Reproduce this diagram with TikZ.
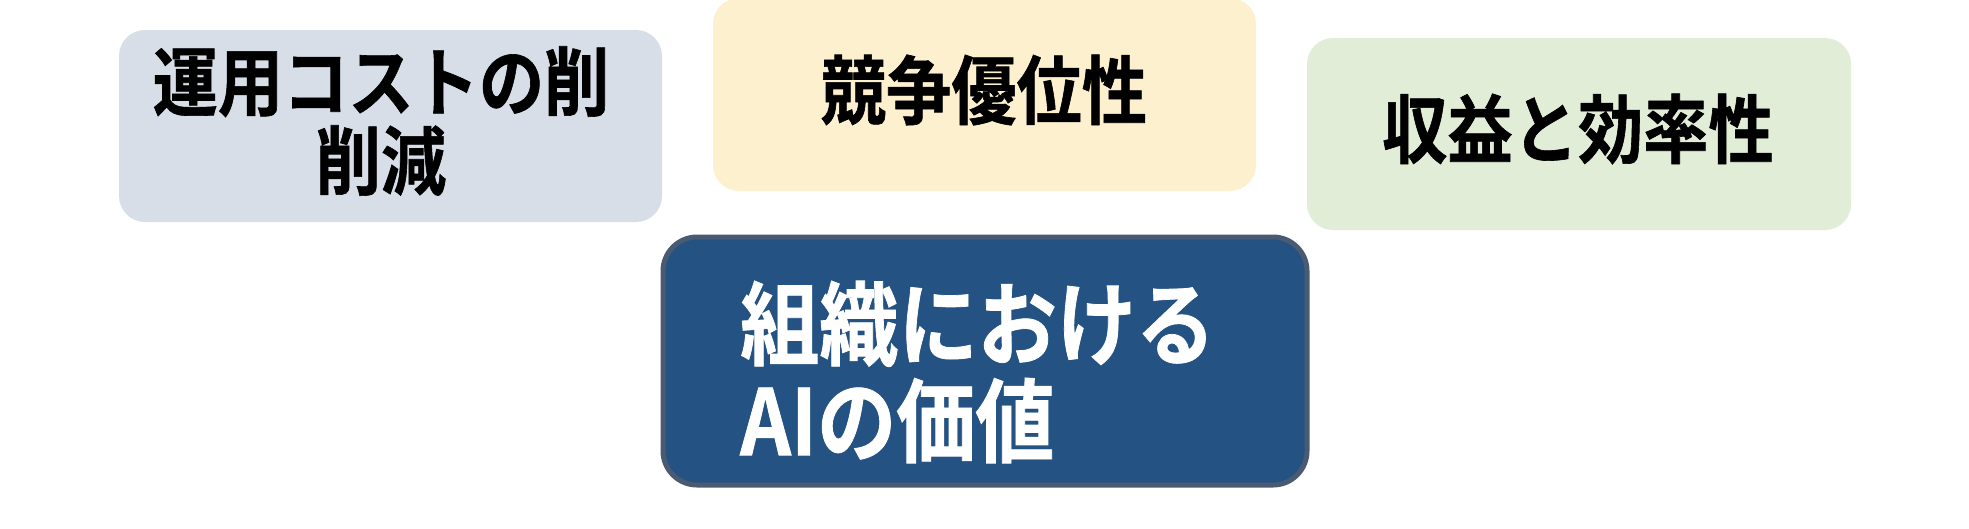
\documentclass[tikz,border=0pt]{standalone}
\usepackage{fontspec}
\setmainfont{Noto Sans CJK JP}[BoldFont={Noto Sans CJK JP Bold}]
\newfontfamily\talljp{Noto Sans CJK JP Bold}[FakeStretch=0.87,FakeBold=0.8]
\definecolor{boxgrey}{HTML}{D8DEE8}
\definecolor{boxyellow}{HTML}{FDF0CE}
\definecolor{boxgreen}{HTML}{E2EDD8}
\definecolor{boxblue}{HTML}{245383}
\definecolor{boxedge}{HTML}{4A5A70}
\tikzset{
  softbox/.style={rounded corners=26pt, draw=none},
  lbl/.style={font=\talljp\fontsize{75}{79}\selectfont, text=black, align=center, inner sep=0pt},
  mainlbl/.style={font=\talljp\fontsize{91}{97}\selectfont, text=white, align=left, inner sep=0pt, anchor=west},
}
\begin{document}
\begin{tikzpicture}[x=1pt,y=-1pt]
\useasboundingbox (0,0) rectangle (1969,528);
\fill[white] (0,0) rectangle (1969,528);
% boxes
\path[softbox, fill=boxgrey] (119,30) rectangle (662,222);
\path[softbox, fill=boxyellow] (713,-2) rectangle (1256,191);
\path[softbox, fill=boxgreen] (1307,38) rectangle (1851,230);
\draw[rounded corners=34pt, fill=boxblue, draw=boxedge, line width=5pt] (663,237) rectangle (1307,485);
% labels
\node[lbl] (cost) at (381,121) {運用コストの削\\削減};
\node[lbl] (comp) at (984,90) {競争優位性};
\node[lbl] (rev) at (1578,129) {収益と効率性};
\node[mainlbl] (ai) at (740,372) {組織における\\AIの価値};
\end{tikzpicture}
\end{document}
